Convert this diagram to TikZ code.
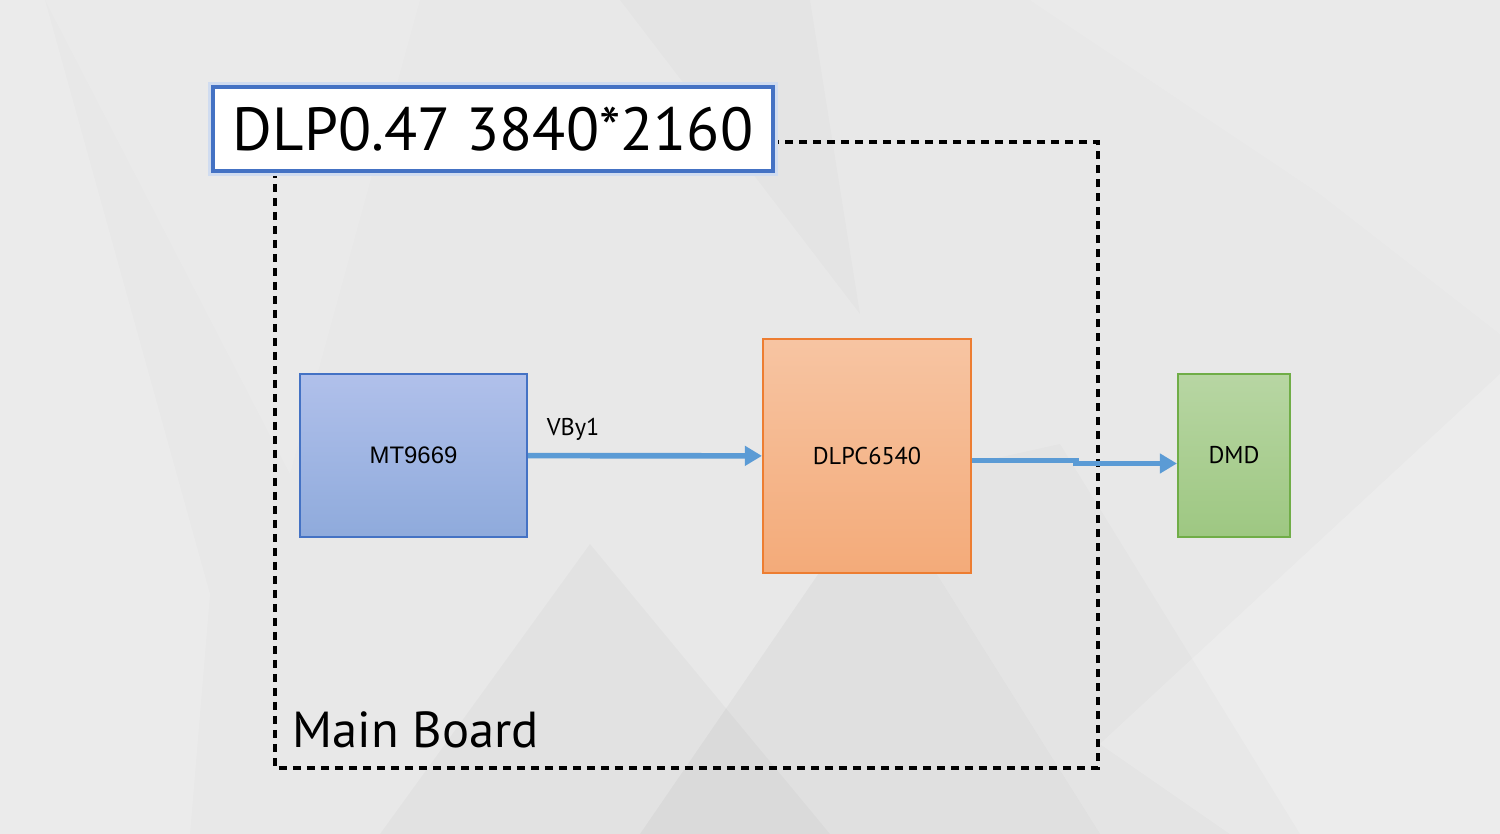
\documentclass[tikz,border=0pt]{standalone}
\usepackage{fontspec}
\setmainfont{PT Sans}
\newfontfamily\arialfont{Liberation Sans}
\usepackage{xcolor}
\usetikzlibrary{arrows.meta,positioning,calc}

\definecolor{bgGray}{HTML}{E8E8E8}
\definecolor{accBlue}{HTML}{4472C4}
\definecolor{flowBlue}{HTML}{5B9BD5}
\definecolor{accOrange}{HTML}{ED7D31}
\definecolor{accGreen}{HTML}{70AD47}

\begin{document}
\begin{tikzpicture}[>=Latex,
  chip/.style={rectangle,draw,line width=0.6pt,inner sep=0pt,font=\fontsize{6.9}{8}\selectfont},
  flow/.style={draw=flowBlue,line width=1.6pt,-{Triangle[length=0.17cm,width=0.19cm]}},
  tag/.style={inner sep=0pt,font=\fontsize{6.9}{8}\selectfont}]
 % background
 \fill[bgGray] (0,0) rectangle (15,8.34);
 \useasboundingbox (0,0) rectangle (15,8.34);
 \fill[white,opacity=0.14] (0,8.34) -- (0.45,8.34) -- (2.1,2.4) -- (1.9,0) -- (0,0) -- cycle;
 \fill[white,opacity=0.1] (0.45,8.34) -- (4.2,8.34) -- (2.9,3.6) -- cycle;
 \fill[black,opacity=0.015] (6.2,8.34) -- (8.1,8.34) -- (8.6,5.2) -- cycle;
 \fill[white,opacity=0.12] (10.3,8.34) -- (15,8.34) -- (15,5.0) -- (13.2,6.4) -- cycle;
 \fill[black,opacity=0.025] (3.8,0) -- (5.9,2.9) -- (8.3,0) -- cycle;
 \fill[black,opacity=0.03] (6.4,0) -- (8.8,3.5) -- (11.0,0) -- cycle;
 \fill[black,opacity=0.015] (8.8,3.5) -- (10.6,3.9) -- (13.0,0) -- (11.0,0) -- cycle;
 \fill[white,opacity=0.18] (11.0,0.9) -- (15,4.6) -- (15,0) -- (12.3,0) -- cycle;

 % main board frame
 \coordinate (frameNW) at (2.75,6.92);
 \coordinate (frameSE) at (10.98,0.66);
 \draw[line width=0.95pt,dash pattern=on 0.085cm off 0.055cm] (frameNW) rectangle (frameSE);
 \node[anchor=base west,inner sep=0pt,font=\fontsize{14.4}{16}\selectfont] (board) at (2.92,0.86) {Main Board};

 % title
 \node[rectangle,fill=white,draw=accBlue,line width=1.3pt,
   preaction={draw=accBlue!25,line width=3pt},
   minimum width=5.6cm,minimum height=0.84cm,inner sep=0pt,
   font=\fontsize{17.3}{20}\selectfont] (title) at (4.93,7.05) {DLP0.47 3840*2160};

 % blocks
 \node[chip,draw=accBlue,top color=blue!14!accBlue!40!white,bottom color=accBlue!60!white,
   minimum width=2.27cm,minimum height=1.63cm,font=\arialfont\fontsize{6.8}{8}\selectfont] (mt) at (4.135,3.785) {MT9669};
 \node[chip,draw=accOrange,top color=accOrange!45!white,bottom color=accOrange!65!white,
   minimum width=2.08cm,minimum height=2.34cm] (dlpc) at (8.67,3.78) {DLPC6540};
 \node[chip,draw=accGreen,top color=accGreen!50!white,bottom color=accGreen!68!white,
   minimum width=1.12cm,minimum height=1.63cm] (dmd) at (12.34,3.785) {DMD};

 % links
 \draw[flow] (mt) -- node[tag,pos=0,anchor=south west,xshift=0.16cm,yshift=0.12cm] {VBy1} (dlpc);
 \coordinate (jogA) at ($(dlpc.east)+(1.04,-0.045)$);
 \coordinate (jogB) at ($(jogA)+(0,-0.03)$);
 \draw[flow] ([yshift=-0.045cm]dlpc.east) -- (jogA) -- (jogB) -- (jogB -| dmd.west);
\end{tikzpicture}
\end{document}
